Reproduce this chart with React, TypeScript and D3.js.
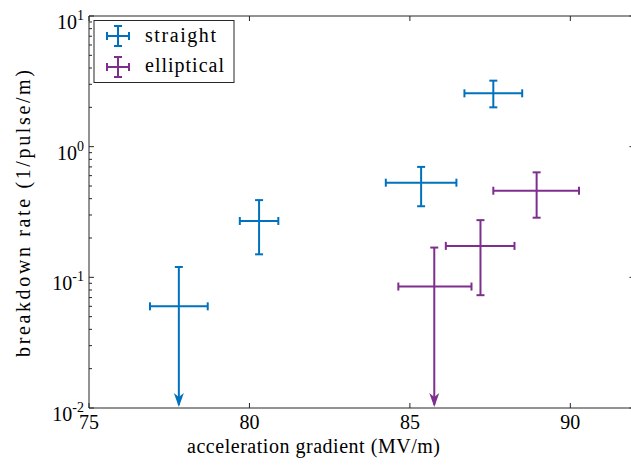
import React from "react";
import * as d3 from "d3";

// data (x in MV/m, y in 1/pulse/m)
const straightX = [77.8, 80.3, 85.35, 87.6];
const straightXLo = [76.9, 79.7, 84.25, 86.7];
const straightXHi = [78.7, 80.9, 86.45, 88.5];
const straightY = [0.06, 0.27, 0.53, 2.56];
const straightYLo = [null, 0.15, 0.35, 2.0];
const straightYHi = [0.12, 0.39, 0.7, 3.2];

const ellipX = [85.76, 87.2, 88.95];
const ellipXLo = [84.64, 86.12, 87.6];
const ellipXHi = [86.92, 88.26, 90.27];
const ellipY = [0.085, 0.174, 0.46];
const ellipYLo = [null, 0.073, 0.286];
const ellipYHi = [0.169, 0.274, 0.636];

const xTicks = [75, 80, 85, 90];
const yExps = [-2, -1, 0, 1];

const BLUE = "#0072BD";
const PURPLE = "#7E2F8E";
const AX = "#262626";
const FONT = "'Liberation Serif', 'DejaVu Serif', serif";

const W = 631, H = 466;
const m = { left: 89, top: 16, bottom: 408 };

const x = d3.scaleLinear().domain([75, 92]).range([m.left, 634.5]);
const y = d3.scaleLog().domain([0.01, 10]).range([m.bottom, m.top]);

const Series = ({ xs, xlo, xhi, ys, ylo, yhi, color }) => (
  <g stroke={color} strokeWidth={2} fill="none">
    {xs.map((xv, i) => {
      const cx = x(xv), cy = y(ys[i]);
      const top = y(yhi[i]);
      const down = ylo[i] == null;
      const bot = down ? m.bottom - 3 : y(ylo[i]);
      return (
        <g key={i}>
          <line x1={x(xlo[i])} x2={x(xhi[i])} y1={cy} y2={cy} />
          <line x1={x(xlo[i])} x2={x(xlo[i])} y1={cy - 4} y2={cy + 4} />
          <line x1={x(xhi[i])} x2={x(xhi[i])} y1={cy - 4} y2={cy + 4} />
          <line x1={cx} x2={cx} y1={top} y2={bot} />
          <line x1={cx - 4} x2={cx + 4} y1={top} y2={top} />
          {down ? (
            <path
              d={`M${cx},${m.bottom - 1} L${cx - 5},${m.bottom - 15} L${cx},${m.bottom - 11} L${cx + 5},${m.bottom - 15} Z`}
              fill={color}
              stroke="none"
            />
          ) : (
            <line x1={cx - 4} x2={cx + 4} y1={bot} y2={bot} />
          )}
        </g>
      );
    })}
  </g>
);

const LegendIcon = ({ cx, cy, color }) => (
  <g stroke={color} strokeWidth={2}>
    <line x1={cx - 11} x2={cx + 11} y1={cy} y2={cy} />
    <line x1={cx - 11} x2={cx - 11} y1={cy - 4} y2={cy + 4} />
    <line x1={cx + 11} x2={cx + 11} y1={cy - 4} y2={cy + 4} />
    <line x1={cx} x2={cx} y1={cy - 10} y2={cy + 10} />
    <line x1={cx - 4} x2={cx + 4} y1={cy - 10} y2={cy - 10} />
    <line x1={cx - 4} x2={cx + 4} y1={cy + 10} y2={cy + 10} />
  </g>
);

export default function App() {
  const right = x.range()[1];
  const minor = [];
  for (let e = -2; e < 1; e++) {
    for (let k = 2; k <= 9; k++) minor.push(k * Math.pow(10, e));
  }

  return (
    <svg width={W} height={H} style={{ position: "absolute", left: 0, top: 0 }}>
      <rect width={W} height={H} fill="#fff" />

      <Series xs={straightX} xlo={straightXLo} xhi={straightXHi} ys={straightY} ylo={straightYLo} yhi={straightYHi} color={BLUE} />
      <Series xs={ellipX} xlo={ellipXLo} xhi={ellipXHi} ys={ellipY} ylo={ellipYLo} yhi={ellipYHi} color={PURPLE} />

      {/* axes box */}
      <g stroke={AX} strokeWidth={1} fill="none">
        <line x1={m.left} x2={right} y1={m.bottom} y2={m.bottom} />
        <line x1={m.left} x2={right} y1={m.top} y2={m.top} />
        <line x1={m.left} x2={m.left} y1={m.top} y2={m.bottom} />
        <line x1={right} x2={right} y1={m.top} y2={m.bottom} />
        {xTicks.map(t => (
          <g key={t}>
            <line x1={x(t)} x2={x(t)} y1={m.bottom} y2={m.bottom - 5} />
            <line x1={x(t)} x2={x(t)} y1={m.top} y2={m.top + 5} />
          </g>
        ))}
        {yExps.map(e => (
          <g key={e}>
            <line x1={m.left} x2={m.left + 5} y1={y(Math.pow(10, e))} y2={y(Math.pow(10, e))} />
            <line x1={right} x2={right - 5} y1={y(Math.pow(10, e))} y2={y(Math.pow(10, e))} />
          </g>
        ))}
        {minor.map((v, i) => (
          <g key={i}>
            <line x1={m.left} x2={m.left + 3} y1={y(v)} y2={y(v)} />
            <line x1={right} x2={right - 3} y1={y(v)} y2={y(v)} />
          </g>
        ))}
      </g>

      <g fontFamily={FONT} fill="#000">
        {xTicks.map(t => (
          <text key={t} x={x(t)} y={m.bottom + 21} fontSize={20} textAnchor="middle">{t}</text>
        ))}
        {yExps.map(e => (
          <text key={e} x={84} y={y(Math.pow(10, e)) + 13} fontSize={20} textAnchor="end">
            10<tspan fontSize={14} dy={-9}>{e}</tspan>
          </text>
        ))}
        <text x={313.5} y={453} fontSize={20} textAnchor="middle" textLength={253} lengthAdjust="spacing">
          acceleration gradient (MV/m)
        </text>
        <text transform={`translate(30,213.5) rotate(-90)`} fontSize={20} textAnchor="middle" textLength={287} lengthAdjust="spacing">
          breakdown rate (1/pulse/m)
        </text>
      </g>

      {/* legend */}
      <rect x={94} y={20.5} width={140} height={62} fill="#fff" stroke={AX} strokeWidth={1} />
      <LegendIcon cx={118} cy={36} color={BLUE} />
      <LegendIcon cx={118} cy={67} color={PURPLE} />
      <g fontFamily={FONT} fontSize={20} fill="#000">
        <text x={145} y={42} textLength={71} lengthAdjust="spacing">straight</text>
        <text x={145} y={72} textLength={79} lengthAdjust="spacing">elliptical</text>
      </g>
    </svg>
  );
}
